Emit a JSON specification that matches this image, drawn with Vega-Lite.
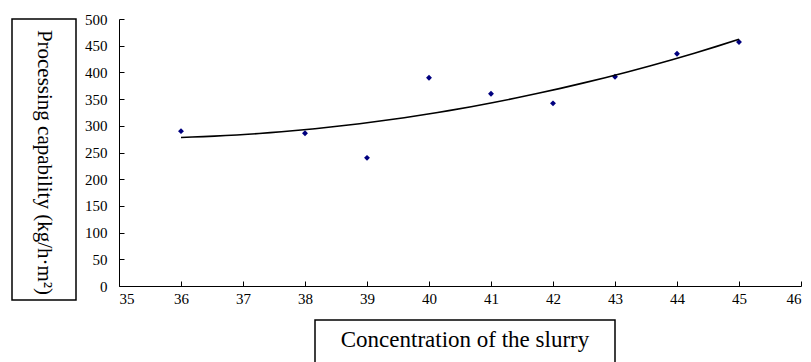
{
  "$schema": "https://vega.github.io/schema/vega-lite/v6.json",
  "padding": {"left": 11, "top": 12, "right": 0, "bottom": 0},
  "background": "white",
  "config": {
    "view": {"stroke": null},
    "font": "Liberation Serif"
  },
  "datasets": {
    "pts": [
      {"concentration": 36, "capability": 290},
      {"concentration": 38, "capability": 286},
      {"concentration": 39, "capability": 240},
      {"concentration": 40, "capability": 390},
      {"concentration": 41, "capability": 360},
      {"concentration": 42, "capability": 342},
      {"concentration": 43, "capability": 392},
      {"concentration": 44, "capability": 435},
      {"concentration": 45, "capability": 457}
    ],
    "ytitle": [{"t": "Processing capability (kg/h·m²)"}],
    "xtitle": [{"t": "Concentration of the slurry"}],
    "empty": []
  },
  "vconcat": [
    {
      "hconcat": [
        {
          "width": 64,
          "height": 281,
          "view": {"stroke": "black", "strokeWidth": 1.5},
          "data": {"name": "ytitle"},
          "mark": {"type": "text", "angle": 90, "fontSize": 21, "font": "Liberation Serif", "color": "black", "align": "center", "baseline": "middle", "dx": 3},
          "encoding": {"text": {"field": "t"}}
        },
        {
          "vconcat": [
            {
              "width": 682,
              "height": 267,
              "data": {"name": "pts"},
              "encoding": {
                "x": {"field": "concentration", "type": "quantitative", "scale": {"domain": [35, 46], "nice": false, "zero": false},
                  "axis": {"title": null, "values": [35,36,37,38,39,40,41,42,43,44,45,46], "format": "d", "labelOverlap": false, "labelFontSize": 15, "labelFont": "Liberation Serif", "labelColor": "black", "domainColor": "black", "tickColor": "black", "grid": false, "tickSize": -5, "labelPadding": 10}},
                "y": {"field": "capability", "type": "quantitative", "scale": {"domain": [0, 500], "nice": false},
                  "axis": {"title": null, "values": [0,50,100,150,200,250,300,350,400,450,500], "format": "d", "labelOverlap": false, "labelFontSize": 15, "labelFont": "Liberation Serif", "labelColor": "black", "domainColor": "black", "tickColor": "black", "grid": false, "tickSize": -5, "labelPadding": 17}}
              },
              "layer": [
                {
                  "mark": {"type": "point", "shape": "diamond", "filled": true, "color": "#00007f", "size": 35, "opacity": 1}
                },
                {
                  "transform": [{"regression": "capability", "on": "concentration", "method": "poly", "order": 2, "extent": [36, 45]}],
                  "mark": {"type": "line", "color": "black", "strokeWidth": 1.6}
                }
              ]
            }
          ]
        }
      ],
      "spacing": 7
    },
    {
      "hconcat": [
        {
          "width": 302,
          "height": 48,
          "data": {"name": "empty"},
          "mark": {"type": "text"},
          "encoding": {}
        },
        {
          "width": 300,
          "height": 48,
          "view": {"stroke": "black", "strokeWidth": 1.5},
          "data": {"name": "xtitle"},
          "mark": {"type": "text", "fontSize": 23, "font": "Liberation Serif", "color": "black", "align": "center", "baseline": "middle", "dy": -4},
          "encoding": {"text": {"field": "t"}}
        }
      ],
      "spacing": 0
    }
  ],
  "spacing": 13
}
